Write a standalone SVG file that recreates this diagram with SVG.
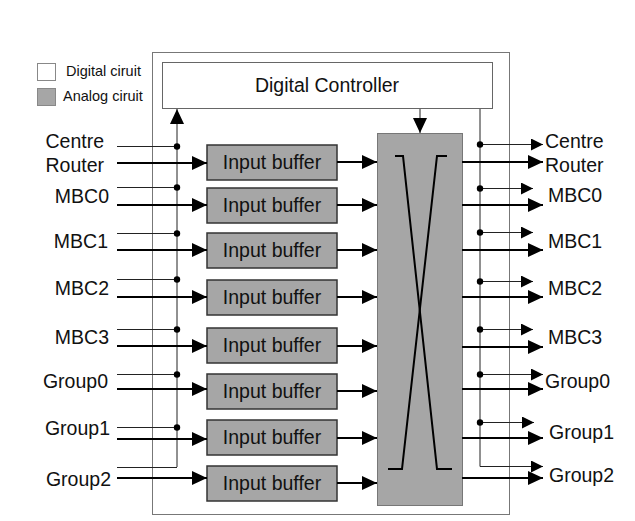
<svg xmlns="http://www.w3.org/2000/svg" width="635" height="521" viewBox="0 0 635 521">
<style>
text{font-family:"Liberation Sans",Arial,sans-serif;fill:#111}
.lbl{font-size:19.5px}
.leg{font-size:14.5px}
.buf rect{fill:#a6a6a6;stroke:#333;stroke-width:1.5}
.buf text{font-size:19.5px;text-anchor:middle}
.thick{stroke:#000;stroke-width:2;fill:none}
.thin{stroke:#222;stroke-width:1;fill:none}
.dot{fill:#000}
</style>
<defs>
<marker id="ah" markerUnits="userSpaceOnUse" markerWidth="16" markerHeight="14" refX="15" refY="7" orient="auto">
<path d="M0,0 L15,7 L0,14 z" fill="#000"/>
</marker>
<marker id="ahs" markerUnits="userSpaceOnUse" markerWidth="13" markerHeight="12" refX="12" refY="6" orient="auto">
<path d="M0,0 L12,6 L0,12 z" fill="#000"/>
</marker>
</defs>
<rect width="635" height="521" fill="#fff"/>

<g id="legend">
<rect x="37.5" y="63.5" width="18" height="17" fill="#fff" stroke="#888"/>
<text class="leg" x="66" y="76">Digital ciruit</text>
<rect x="37.5" y="88.5" width="18" height="17" fill="#a6a6a6" stroke="#888"/>
<text class="leg" x="63" y="101">Analog ciruit</text>
</g>

<g id="outer">
<rect x="152.5" y="52.5" width="357" height="462" fill="none" stroke="#777" stroke-width="1"/>
</g>

<g id="controller">
<rect x="162.5" y="62.5" width="330" height="46" fill="#fff" stroke="#666" stroke-width="1"/>
<text class="lbl" x="327" y="92" text-anchor="middle">Digital Controller</text>
</g>

<g id="crossbar">
<rect x="377.5" y="133.5" width="85" height="372" fill="#a6a6a6" stroke="#777" stroke-width="1"/>
<path d="M395,156 H403 L437,469 H452" stroke="#000" stroke-width="2" fill="none"/>
<path d="M447,156 H437 L402,469 H388" stroke="#000" stroke-width="2" fill="none"/>
</g>

<g id="buffer1" class="buf"><rect x="207" y="145" width="130" height="35"/><text x="272" y="169">Input buffer</text></g>
<g id="buffer2" class="buf"><rect x="207" y="188" width="130" height="35"/><text x="272" y="212">Input buffer</text></g>
<g id="buffer3" class="buf"><rect x="207" y="233" width="130" height="35"/><text x="272" y="257">Input buffer</text></g>
<g id="buffer4" class="buf"><rect x="207" y="280" width="130" height="35"/><text x="272" y="304">Input buffer</text></g>
<g id="buffer5" class="buf"><rect x="207" y="328" width="130" height="35"/><text x="272" y="352">Input buffer</text></g>
<g id="buffer6" class="buf"><rect x="207" y="374" width="130" height="35"/><text x="272" y="398">Input buffer</text></g>
<g id="buffer7" class="buf"><rect x="207" y="420" width="130" height="35"/><text x="272" y="444">Input buffer</text></g>
<g id="buffer8" class="buf"><rect x="207" y="466" width="130" height="35"/><text x="272" y="490">Input buffer</text></g>

<g id="connectors">
<!-- controller links -->
<path class="thin" d="M177,467 V109" marker-end="url(#ah)"/>
<path class="thin" d="M420,109 V133" marker-end="url(#ah)"/>
<path class="thin" d="M480,109 V466.5"/>
<!-- left taps -->
<path class="thin" d="M117,146.5 H177 M117,187.5 H177 M117,233.5 H177 M117,279.5 H177 M117,329.5 H177 M117,374.5 H177 M117,427.5 H177 M117,467.5 H177"/>
<g class="dot">
<circle cx="177" cy="146.5" r="3.2"/><circle cx="177" cy="187.5" r="3.2"/><circle cx="177" cy="233.5" r="3.2"/><circle cx="177" cy="279.5" r="3.2"/>
<circle cx="177" cy="329.5" r="3.2"/><circle cx="177" cy="374.5" r="3.2"/><circle cx="177" cy="427.5" r="3.2"/>
</g>
<!-- left inputs -->
<path class="thick" d="M117,163 H207" marker-end="url(#ah)"/>
<path class="thick" d="M117,205 H207" marker-end="url(#ah)"/>
<path class="thick" d="M117,250 H207" marker-end="url(#ah)"/>
<path class="thick" d="M117,297 H207" marker-end="url(#ah)"/>
<path class="thick" d="M117,346 H207" marker-end="url(#ah)"/>
<path class="thick" d="M117,389 H207" marker-end="url(#ah)"/>
<path class="thick" d="M117,439 H207" marker-end="url(#ah)"/>
<path class="thick" d="M117,478 H207" marker-end="url(#ah)"/>
<!-- buffers to crossbar -->
<path class="thick" d="M337,162 H377" marker-end="url(#ah)"/>
<path class="thick" d="M337,205 H377" marker-end="url(#ah)"/>
<path class="thick" d="M337,250 H377" marker-end="url(#ah)"/>
<path class="thick" d="M337,297 H377" marker-end="url(#ah)"/>
<path class="thick" d="M337,346 H377" marker-end="url(#ah)"/>
<path class="thick" d="M337,391 H377" marker-end="url(#ah)"/>
<path class="thick" d="M337,438 H377" marker-end="url(#ah)"/>
<path class="thick" d="M337,483 H377" marker-end="url(#ah)"/>
<!-- crossbar outputs -->
<path class="thick" d="M462,162 H543" marker-end="url(#ah)"/>
<path class="thick" d="M462,205 H543" marker-end="url(#ah)"/>
<path class="thick" d="M462,250 H543" marker-end="url(#ah)"/>
<path class="thick" d="M462,297 H543" marker-end="url(#ah)"/>
<path class="thick" d="M462,347 H543" marker-end="url(#ah)"/>
<path class="thick" d="M462,389 H543" marker-end="url(#ah)"/>
<path class="thick" d="M462,438 H543" marker-end="url(#ah)"/>
<path class="thick" d="M462,478 H543" marker-end="url(#ah)"/>
<!-- right taps -->
<path class="thin" d="M480,144.5 H543" marker-end="url(#ahs)"/>
<path class="thin" d="M480,188.5 H533" marker-end="url(#ahs)"/>
<path class="thin" d="M480,232.5 H533" marker-end="url(#ahs)"/>
<path class="thin" d="M480,281.5 H533" marker-end="url(#ahs)"/>
<path class="thin" d="M480,329.5 H533" marker-end="url(#ahs)"/>
<path class="thin" d="M480,374.5 H543" marker-end="url(#ahs)"/>
<path class="thin" d="M480,422.5 H534" marker-end="url(#ahs)"/>
<path class="thin" d="M480,466.5 H543" marker-end="url(#ahs)"/>
<g class="dot">
<circle cx="480" cy="144.5" r="3.2"/><circle cx="480" cy="188.5" r="3.2"/><circle cx="480" cy="232.5" r="3.2"/><circle cx="480" cy="281.5" r="3.2"/>
<circle cx="480" cy="329.5" r="3.2"/><circle cx="480" cy="374.5" r="3.2"/><circle cx="480" cy="422.5" r="3.2"/>
</g>
</g>

<g id="labels" class="lbl">
<text class="lbl" x="104" y="148" text-anchor="end">Centre</text>
<text class="lbl" x="104" y="172" text-anchor="end">Router</text>
<text class="lbl" x="109" y="203" text-anchor="end">MBC0</text>
<text class="lbl" x="108" y="248" text-anchor="end">MBC1</text>
<text class="lbl" x="109" y="295" text-anchor="end">MBC2</text>
<text class="lbl" x="109" y="344" text-anchor="end">MBC3</text>
<text class="lbl" x="108" y="388" text-anchor="end">Group0</text>
<text class="lbl" x="110" y="435" text-anchor="end">Group1</text>
<text class="lbl" x="111" y="486" text-anchor="end">Group2</text>
<text class="lbl" x="545" y="148">Centre</text>
<text class="lbl" x="545" y="172">Router</text>
<text class="lbl" x="548" y="202">MBC0</text>
<text class="lbl" x="548" y="248">MBC1</text>
<text class="lbl" x="548" y="295">MBC2</text>
<text class="lbl" x="548" y="344">MBC3</text>
<text class="lbl" x="545" y="388">Group0</text>
<text class="lbl" x="549" y="439">Group1</text>
<text class="lbl" x="549" y="482">Group2</text>
</g>
</svg>
